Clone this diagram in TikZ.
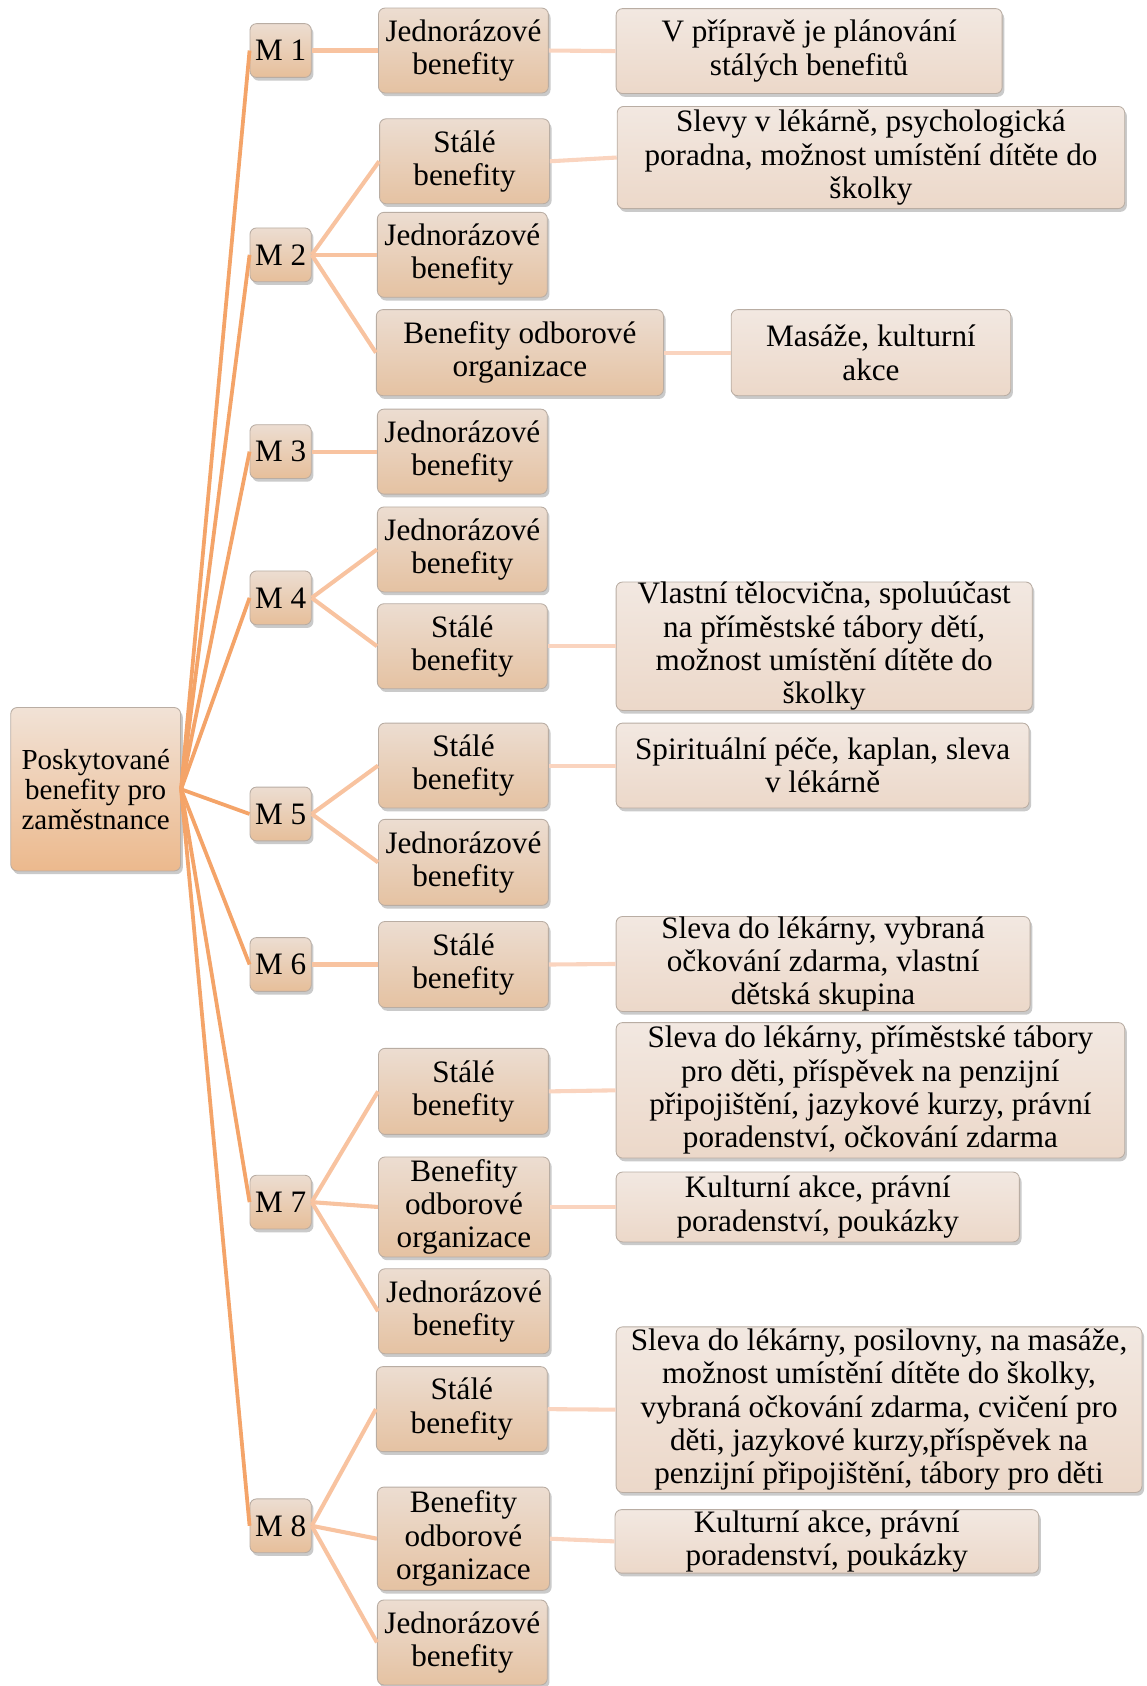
\documentclass[tikz,border=0pt]{standalone}
\usepackage{fontspec}
\setmainfont{Liberation Serif}
\usetikzlibrary{shadows}
\newcommand\fbig{\fontsize{29}{31}\selectfont}
\newcommand\froot{\fontsize{27}{28}\selectfont}
\definecolor{bordc}{HTML}{B9ADA3}
\definecolor{lineA}{HTML}{F4A469}
\definecolor{lineB}{HTML}{F8C3A0}
\definecolor{lineC}{HTML}{FAD4BF}
\definecolor{topA}{HTML}{F1E2D6}
\definecolor{botA}{HTML}{ECB98D}
\definecolor{topB}{HTML}{ECDDD1}
\definecolor{botB}{HTML}{E5C2A2}
\definecolor{topC}{HTML}{F2E8E1}
\definecolor{botC}{HTML}{ECD8C9}
\tikzset{
  box/.style={draw=bordc, line width=0.8pt, rounded corners=6pt, align=center, inner sep=0pt,
    drop shadow={opacity=0.35, shadow xshift=2pt, shadow yshift=-3pt, fill=black!60}},
  rootbox/.style={box, top color=topA, bottom color=botA, font=\froot, minimum width=158pt, minimum height=152pt},
  mbox/.style={box, top color=topB, bottom color=botB!95!orange, font=\fbig, minimum width=57pt, minimum height=50pt},
  kbox/.style={box, top color=topB, bottom color=botB, font=\fbig, minimum height=79pt},
  dbox/.style={box, top color=topC, bottom color=botC, font=\fbig},
  conA/.style={draw=lineA, line width=3.5pt},
  conB/.style={draw=lineB, line width=3.8pt},
  conC/.style={draw=lineC, line width=3.8pt},
}
\begin{document}
\begin{tikzpicture}[x=1pt,y=-1pt]
\useasboundingbox (0,0) rectangle (1066,1568);
% root
\node[rootbox] (root) at (89,734) {Poskytované\\benefity pro\\zaměstnance};
% M boxes
\node[mbox] (m1) at (261,47) {M 1};
\node[mbox] (m2) at (261,237) {M 2};
\node[mbox] (m3) at (261,420) {M 3};
\node[mbox] (m4) at (261,556) {M 4};
\node[mbox] (m5) at (261,757) {M 5};
\node[mbox] (m6) at (261,897) {M 6};
\node[mbox] (m7) at (261,1118) {M 7};
\node[mbox] (m8) at (261,1419) {M 8};
% level 2
\node[kbox, minimum width=158pt] (m1j) at (431,47) {Jednorázové\\benefity};
\node[kbox, minimum width=158pt] (m2s) at (432,150) {Stálé\\benefity};
\node[kbox, minimum width=158pt] (m2j) at (430,237) {Jednorázové\\benefity};
\node[kbox, minimum width=267pt, minimum height=80pt] (m2b) at (483.5,328) {Benefity odborové\\organizace};
\node[kbox, minimum width=158pt] (m3j) at (430,420) {Jednorázové\\benefity};
\node[kbox, minimum width=158pt] (m4j) at (430,511) {Jednorázové\\benefity};
\node[kbox, minimum width=158pt] (m4s) at (430,601) {Stálé\\benefity};
\node[kbox, minimum width=158pt] (m5s) at (431,712) {Stálé\\benefity};
\node[kbox, minimum width=158pt, minimum height=80pt] (m5j) at (431,802) {Jednorázové\\benefity};
\node[kbox, minimum width=158pt, minimum height=80pt] (m6s) at (431,897) {Stálé\\benefity};
\node[kbox, minimum width=158pt, minimum height=80pt] (m7s) at (431,1015) {Stálé\\benefity};
\node[kbox, minimum width=159pt, minimum height=93pt] (m7b) at (431.5,1122.5) {Benefity\\odborové\\organizace};
\node[kbox, minimum width=159pt] (m7j) at (431.5,1219.5) {Jednorázové\\benefity};
\node[kbox, minimum width=159pt] (m8s) at (429.5,1310.5) {Stálé\\benefity};
\node[kbox, minimum width=160pt, minimum height=96pt] (m8b) at (431,1431) {Benefity\\odborové\\organizace};
\node[kbox, minimum width=158pt] (m8j) at (430,1527.5) {Jednorázové\\benefity};
% level 3
\node[dbox, minimum width=359pt, minimum height=79pt] (d1) at (752.5,47.5) {V přípravě je plánování\\stálých benefitů};
\node[dbox, minimum width=472pt, minimum height=95pt] (d2) at (810,146.5) {Slevy v lékárně, psychologická\\poradna, možnost umístění dítěte do\\školky};
\node[dbox, minimum width=260pt, minimum height=80pt] (d3) at (810,328) {Masáže, kulturní\\akce};
\node[dbox, minimum width=387pt, minimum height=118pt] (d4) at (766.5,601) {Vlastní tělocvična, spoluúčast\\na příměstské tábory dětí,\\možnost umístění dítěte do\\školky};
\node[dbox, minimum width=384pt, minimum height=79pt] (d5) at (765,712) {Spirituální péče, kaplan, sleva\\v lékárně};
\node[dbox, minimum width=385pt, minimum height=87pt] (d6) at (765.5,896.5) {Sleva do lékárny, vybraná\\očkování zdarma, vlastní\\dětská skupina};
\node[dbox, minimum width=473pt, minimum height=126pt] (d7) at (809.5,1014) {Sleva do lékárny, příměstské tábory\\pro děti, příspěvek na penzijní\\připojištění, jazykové kurzy, právní\\poradenství, očkování zdarma};
\node[dbox, minimum width=375pt, minimum height=65pt] (d8) at (760.5,1122.5) {Kulturní akce, právní\\poradenství, poukázky};
\node[dbox, minimum width=489pt, minimum height=154pt] (d9) at (817.5,1311) {Sleva do lékárny, posilovny, na masáže,\\možnost umístění dítěte do školky,\\vybraná očkování zdarma, cvičení pro\\děti, jazykové kurzy,příspěvek na\\penzijní připojištění, tábory pro děti};
\node[dbox, minimum width=394pt, minimum height=59pt] (d10) at (769,1433.5) {Kulturní akce, právní\\poradenství, poukázky};
% connectors root -> M
\foreach \m in {m1,m2,m3,m4,m5,m6,m7,m8}
  \draw[conA] (root.east) -- (\m.west);
% M -> level 2
\draw[conB] (m1.east) -- (m1j.west);
\draw[conB] (m2.east) -- (m2s.west);
\draw[conB] (m2.east) -- (m2j.west);
\draw[conB] (m2.east) -- (m2b.west);
\draw[conB] (m3.east) -- (m3j.west);
\draw[conB] (m4.east) -- (m4j.west);
\draw[conB] (m4.east) -- (m4s.west);
\draw[conB] (m5.east) -- (m5s.west);
\draw[conB] (m5.east) -- (m5j.west);
\draw[conB] (m6.east) -- (m6s.west);
\draw[conB] (m7.east) -- (m7s.west);
\draw[conB] (m7.east) -- (m7b.west);
\draw[conB] (m7.east) -- (m7j.west);
\draw[conB] (m8.east) -- (m8s.west);
\draw[conB] (m8.east) -- (m8b.west);
\draw[conB] (m8.east) -- (m8j.west);
% level 2 -> level 3
\draw[conC] (m1j.east) -- (d1.west);
\draw[conC] (m2s.east) -- (d2.west);
\draw[conC] (m2b.east) -- (d3.west);
\draw[conC] (m4s.east) -- (d4.west);
\draw[conC] (m5s.east) -- (d5.west);
\draw[conC] (m6s.east) -- (d6.west);
\draw[conC] (m7s.east) -- (d7.west);
\draw[conC] (m7b.east) -- (d8.west);
\draw[conC] (m8s.east) -- (d9.west);
\draw[conC] (m8b.east) -- (d10.west);
\end{tikzpicture}
\end{document}
